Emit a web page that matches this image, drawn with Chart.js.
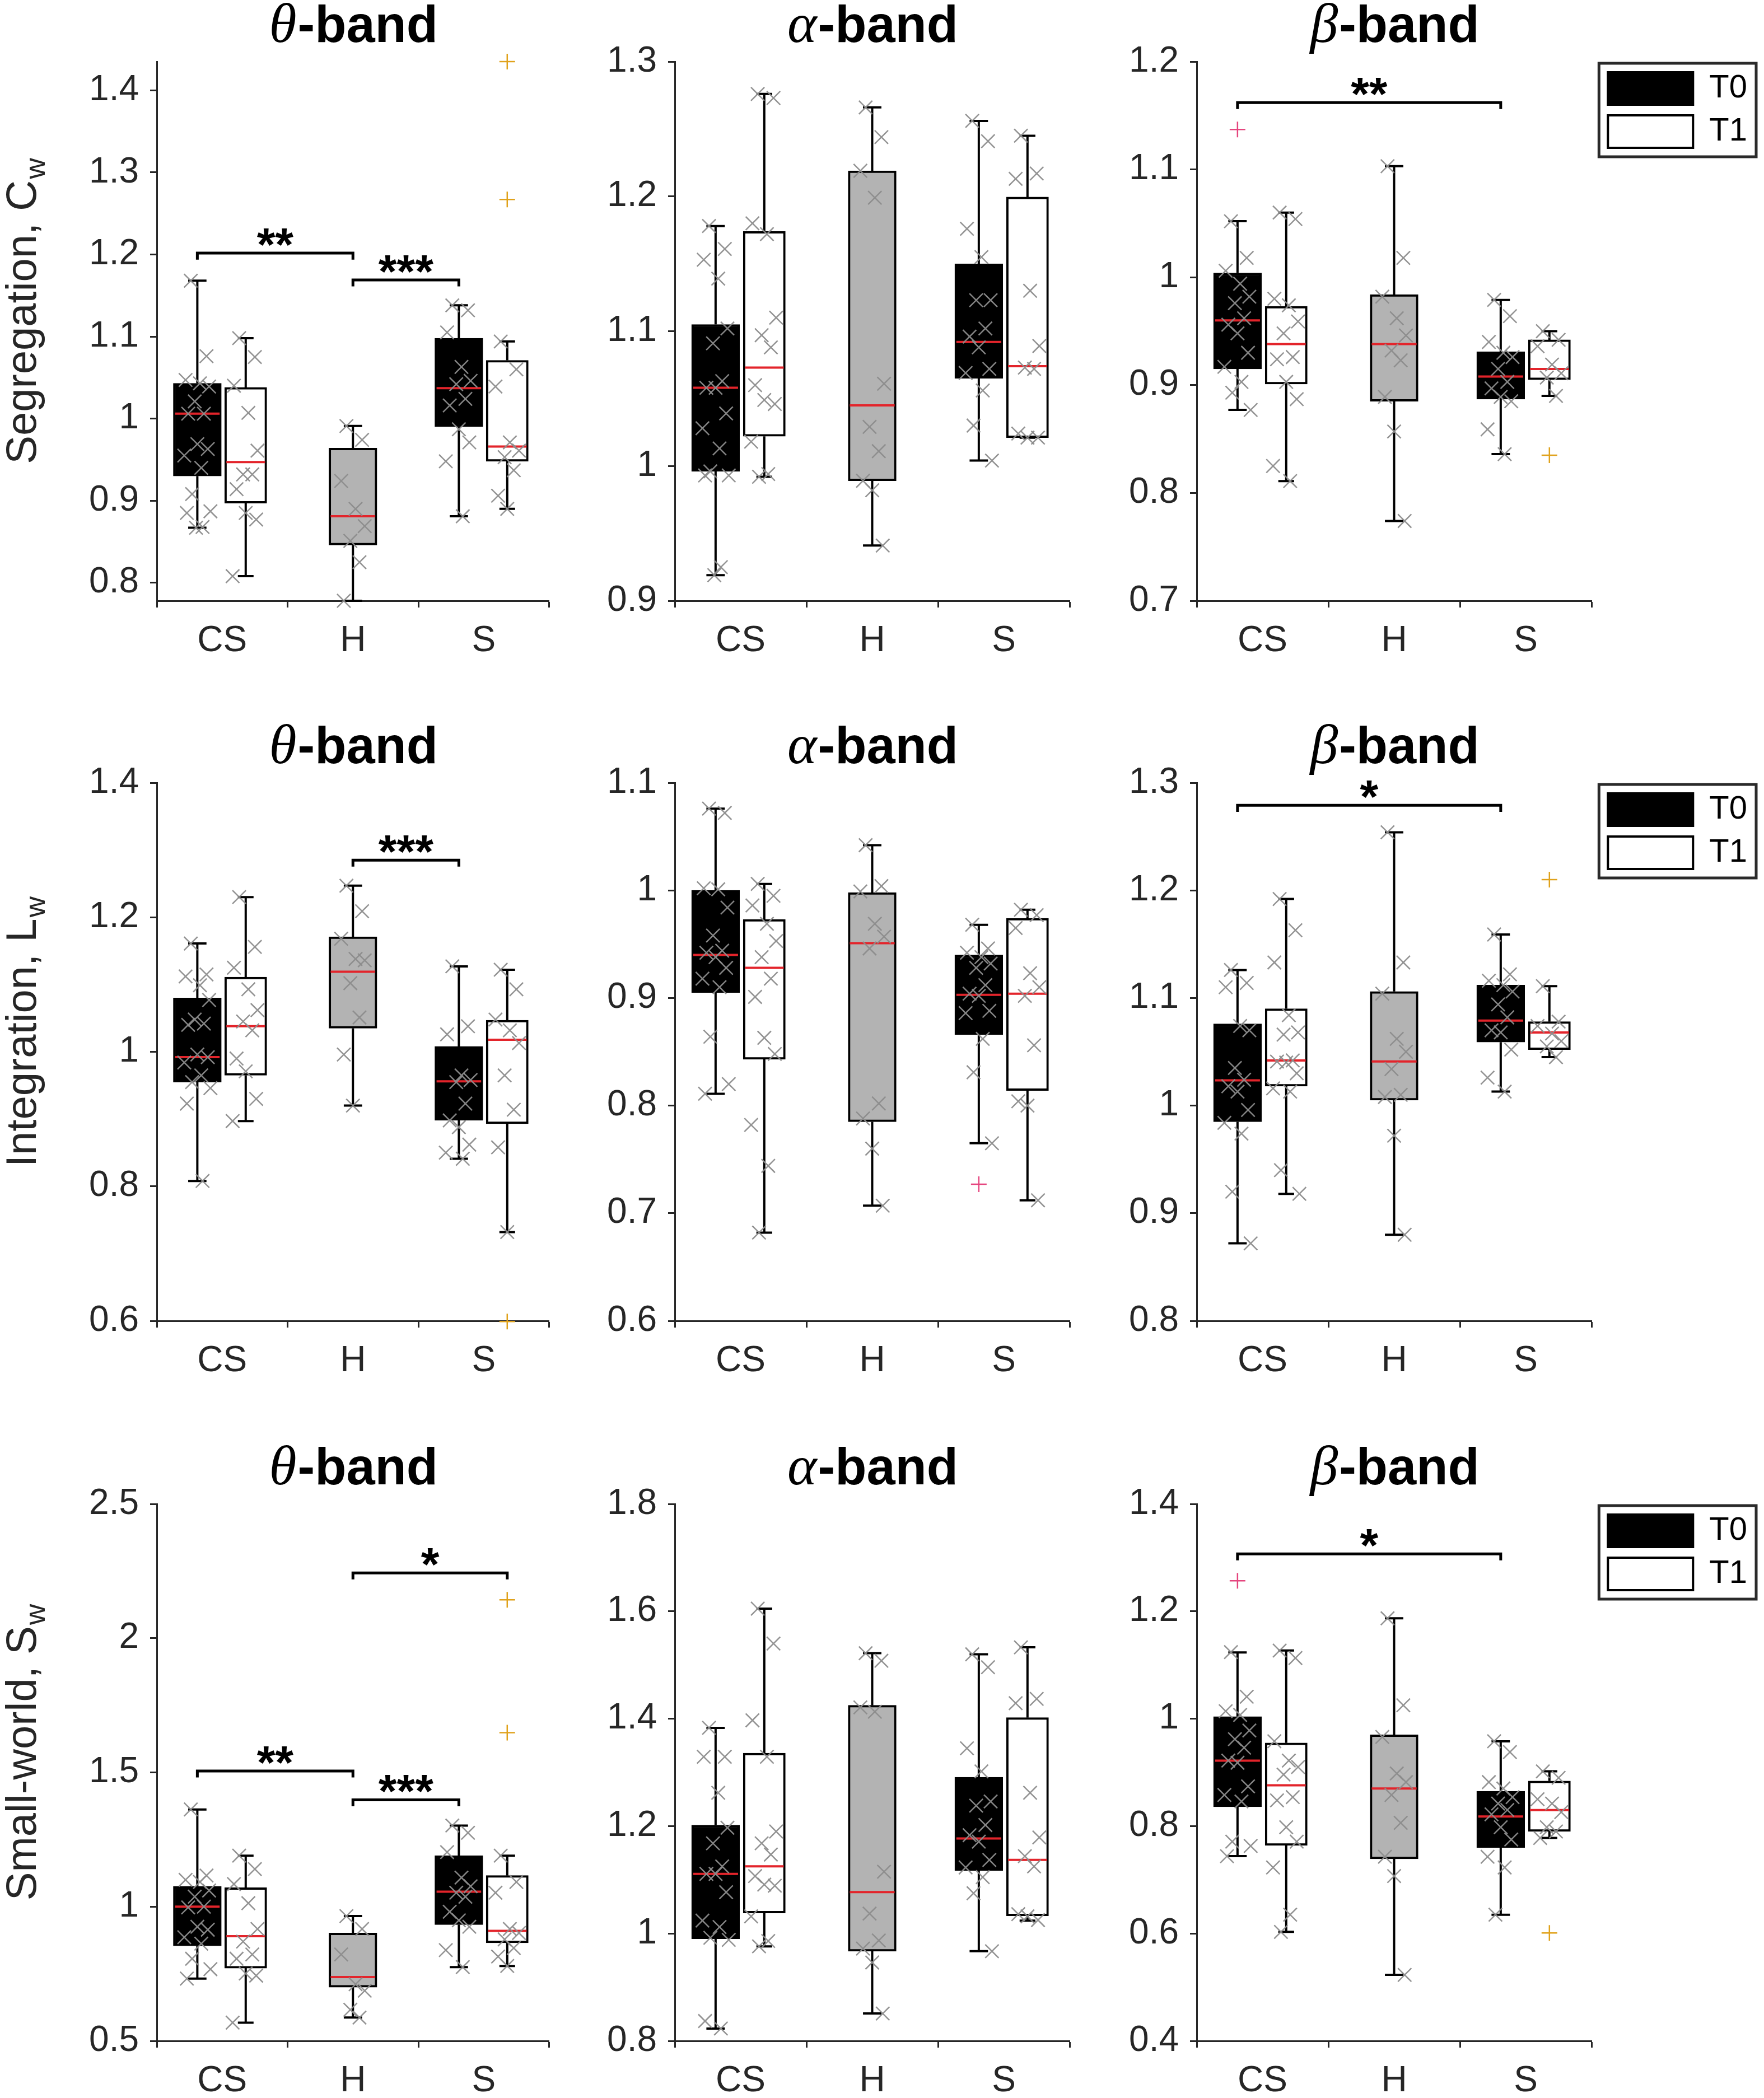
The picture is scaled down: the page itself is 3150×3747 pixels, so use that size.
<!DOCTYPE html>
<html>
<head>
<meta charset="utf-8">
<script src="https://cdn.jsdelivr.net/npm/chart.js@4.4.1/dist/chart.umd.min.js"></script>
<style>
  html, body { margin: 0; padding: 0; background: #fff; }
  #page { position: relative; width: 3150px; height: 3747px; overflow: hidden; }
  #page canvas { position: absolute; }
</style>
</head>
<body>
<div id="page"></div>
<script>
// Categories and sessions
const GROUPS = ["CS", "H", "S"];
const SESSIONS = ["T0", "T1"];
// Boxes in order: CS-T0, CS-T1, H, S-T0, S-T1
const BOX_GROUP = [0, 0, 1, 2, 2];
const BOX_KIND = ["T0", "T1", "H", "T0", "T1"];

// Box stats: [lower whisker, Q1, median, Q3, upper whisker]
// ---- Segregation, Cw ----
const SEG_THETA_BOX = [[0.867, 0.930, 1.006, 1.043, 1.168], [0.808, 0.897, 0.947, 1.038, 1.098], [0.778, 0.846, 0.881, 0.964, 0.991], [0.881, 0.990, 1.037, 1.098, 1.138], [0.890, 0.948, 0.966, 1.071, 1.094]];
const SEG_THETA_PTS = [
  [1.168, 1.076, 1.047, 1.043, 1.039, 1.021, 1.006, 1.006, 0.969, 0.963, 0.955, 0.940, 0.908, 0.887, 0.885, 0.868, 0.867],
  [1.098, 1.075, 1.040, 1.007, 0.961, 0.932, 0.932, 0.914, 0.885, 0.877, 0.808],
  [0.991, 0.974, 0.924, 0.890, 0.869, 0.851, 0.825, 0.778],
  [1.138, 1.132, 1.105, 1.063, 1.046, 1.042, 1.024, 1.016, 0.987, 0.971, 0.948, 0.881],
  [1.094, 1.060, 1.039, 0.971, 0.961, 0.953, 0.937, 0.906, 0.890]];
const SEG_THETA_OUT = [[], [], [], [], [1.435, 1.267]];
const SEG_THETA_SIG = [[0, 2, 1.2016, "**"], [2, 3, 1.169, "***"]];
const SEG_THETA_Y = [0.778, 1.435];
const SEG_THETA_TICKS = [0.8, 0.9, 1, 1.1, 1.2, 1.3, 1.4];

const SEG_ALPHA_BOX = [[0.919, 0.996, 1.058, 1.105, 1.178], [0.992, 1.022, 1.073, 1.174, 1.276], [0.941, 0.989, 1.045, 1.219, 1.266], [1.004, 1.065, 1.092, 1.150, 1.256], [1.021, 1.021, 1.074, 1.1995, 1.245]];
const SEG_ALPHA_PTS = [
  [1.178, 1.161, 1.153, 1.139, 1.102, 1.091, 1.063, 1.058, 1.058, 1.039, 1.028, 1.013, 0.996, 0.993, 0.993, 0.925, 0.919],
  [1.276, 1.273, 1.180, 1.172, 1.110, 1.097, 1.088, 1.060, 1.049, 1.046, 1.018, 0.994, 0.992],
  [1.266, 1.244, 1.219, 1.199, 1.061, 1.029, 1.011, 0.989, 0.982, 0.941],
  [1.256, 1.241, 1.176, 1.155, 1.123, 1.123, 1.102, 1.096, 1.088, 1.072, 1.069, 1.056, 1.030, 1.004],
  [1.245, 1.217, 1.213, 1.130, 1.089, 1.073, 1.072, 1.024, 1.021, 1.021]];
const SEG_ALPHA_OUT = [[], [], [], [], []];
const SEG_ALPHA_SIG = [];
const SEG_ALPHA_Y = [0.9, 1.3];
const SEG_ALPHA_TICKS = [0.9, 1, 1.1, 1.2, 1.3];

const SEG_BETA_BOX = [[0.877, 0.915, 0.960, 1.004, 1.052], [0.811, 0.901, 0.938, 0.973, 1.060], [0.774, 0.885, 0.938, 0.984, 1.103], [0.836, 0.887, 0.908, 0.931, 0.979], [0.890, 0.905, 0.915, 0.942, 0.950]];
const SEG_BETA_PTS = [
  [1.052, 1.018, 1.006, 0.994, 0.982, 0.976, 0.962, 0.956, 0.948, 0.930, 0.917, 0.903, 0.893, 0.877],
  [1.060, 1.054, 0.980, 0.974, 0.959, 0.948, 0.926, 0.924, 0.903, 0.887, 0.825, 0.811],
  [1.103, 1.018, 0.982, 0.962, 0.946, 0.932, 0.923, 0.889, 0.857, 0.774],
  [0.979, 0.964, 0.940, 0.930, 0.926, 0.915, 0.903, 0.897, 0.889, 0.885, 0.859, 0.836],
  [0.950, 0.942, 0.936, 0.919, 0.911, 0.907, 0.890]];
const SEG_BETA_OUT = [[1.137], [], [], [], [0.835]];
const SEG_BETA_SIG = [[0, 3, 1.162, "**"]];
const SEG_BETA_Y = [0.7, 1.2];
const SEG_BETA_TICKS = [0.7, 0.8, 0.9, 1, 1.1, 1.2];

// ---- Integration, Lw ----
const INT_THETA_BOX = [[0.808, 0.955, 0.992, 1.080, 1.161], [0.897, 0.965, 1.038, 1.111, 1.230], [0.920, 1.035, 1.119, 1.171, 1.247], [0.841, 0.898, 0.956, 1.008, 1.127], [0.732, 0.893, 1.018, 1.047, 1.122]];
const INT_THETA_PTS = [
  [1.161, 1.115, 1.112, 1.099, 1.077, 1.048, 1.042, 1.040, 0.996, 0.992, 0.984, 0.965, 0.955, 0.946, 0.923, 0.808],
  [1.230, 1.156, 1.125, 1.093, 1.062, 1.045, 1.032, 0.990, 0.971, 0.930, 0.897],
  [1.247, 1.209, 1.168, 1.138, 1.136, 1.102, 1.051, 0.996, 0.920],
  [1.127, 1.038, 1.026, 0.965, 0.958, 0.955, 0.923, 0.898, 0.888, 0.862, 0.850, 0.841],
  [1.122, 1.093, 1.048, 1.032, 1.013, 0.965, 0.914, 0.858, 0.732]];
const INT_THETA_OUT = [[], [], [], [], [0.599]];
const INT_THETA_SIG = [[2, 3, 1.285, "***"]];
const INT_THETA_Y = [0.6, 1.4];
const INT_THETA_TICKS = [0.6, 0.8, 1, 1.2, 1.4];

const INT_ALPHA_BOX = [[0.811, 0.905, 0.940, 1.000, 1.076], [0.682, 0.843, 0.928, 0.973, 1.006], [0.707, 0.785, 0.951, 0.998, 1.042], [0.765, 0.866, 0.903, 0.940, 0.968], [0.712, 0.814, 0.904, 0.974, 0.982]];
const INT_ALPHA_PTS = [
  [1.076, 1.072, 1.002, 1.001, 0.984, 0.958, 0.944, 0.942, 0.938, 0.928, 0.918, 0.910, 0.864, 0.820, 0.811],
  [1.006, 0.995, 0.986, 0.969, 0.953, 0.938, 0.918, 0.901, 0.863, 0.848, 0.782, 0.744, 0.682],
  [1.042, 1.004, 0.999, 0.969, 0.957, 0.946, 0.802, 0.788, 0.760, 0.707],
  [0.968, 0.946, 0.942, 0.938, 0.932, 0.928, 0.912, 0.904, 0.902, 0.888, 0.886, 0.862, 0.831, 0.765],
  [0.982, 0.977, 0.965, 0.923, 0.910, 0.902, 0.856, 0.804, 0.800, 0.712]];
const INT_ALPHA_OUT = [[], [], [], [0.727], []];
const INT_ALPHA_SIG = [];
const INT_ALPHA_Y = [0.6, 1.1];
const INT_ALPHA_TICKS = [0.6, 0.7, 0.8, 0.9, 1, 1.1];

const INT_BETA_BOX = [[0.872, 0.985, 1.0235, 1.076, 1.126], [0.918, 1.018, 1.042, 1.090, 1.192], [0.880, 1.005, 1.041, 1.106, 1.254], [1.013, 1.059, 1.079, 1.112, 1.159], [1.045, 1.052, 1.068, 1.078, 1.111]];
const INT_BETA_PTS = [
  [1.126, 1.114, 1.110, 1.074, 1.070, 1.035, 1.024, 1.018, 1.013, 0.996, 0.984, 0.974, 0.920, 0.872],
  [1.192, 1.163, 1.133, 1.084, 1.068, 1.066, 1.042, 1.041, 1.040, 1.030, 1.016, 1.013, 0.940, 0.918],
  [1.254, 1.133, 1.104, 1.062, 1.050, 1.034, 1.010, 1.008, 0.972, 0.880],
  [1.159, 1.122, 1.116, 1.112, 1.106, 1.094, 1.082, 1.070, 1.068, 1.052, 1.026, 1.013],
  [1.111, 1.078, 1.074, 1.067, 1.060, 1.055, 1.045]];
const INT_BETA_OUT = [[], [], [], [], [1.210]];
const INT_BETA_SIG = [[0, 3, 1.279, "*"]];
const INT_BETA_Y = [0.8, 1.3];
const INT_BETA_TICKS = [0.8, 0.9, 1, 1.1, 1.2, 1.3];

// ---- Small-world, Sw ----
const SW_THETA_BOX = [[0.732, 0.854, 1.000, 1.076, 1.362], [0.568, 0.771, 0.890, 1.071, 1.190], [0.587, 0.700, 0.738, 0.902, 0.965], [0.775, 0.933, 1.056, 1.190, 1.302], [0.779, 0.865, 0.910, 1.116, 1.190]];
const SW_THETA_PTS = [
  [1.362, 1.116, 1.100, 1.092, 1.060, 1.037, 1.000, 0.997, 0.925, 0.914, 0.886, 0.862, 0.806, 0.767, 0.732],
  [1.190, 1.140, 1.084, 1.013, 0.917, 0.870, 0.822, 0.806, 0.751, 0.743, 0.568],
  [0.965, 0.917, 0.822, 0.711, 0.687, 0.616, 0.587],
  [1.302, 1.275, 1.203, 1.108, 1.076, 1.052, 1.037, 0.981, 0.949, 0.925, 0.838, 0.775],
  [1.190, 1.092, 1.052, 0.917, 0.902, 0.878, 0.846, 0.814, 0.779]];
const SW_THETA_OUT = [[], [], [], [], [2.143, 1.648]];
const SW_THETA_SIG = [[0, 2, 1.505, "**"], [2, 3, 1.398, "***"], [2, 4, 2.243, "*"]];
const SW_THETA_Y = [0.5, 2.5];
const SW_THETA_TICKS = [0.5, 1, 1.5, 2, 2.5];

const SW_ALPHA_BOX = [[0.823, 0.990, 1.111, 1.202, 1.383], [0.976, 1.038, 1.125, 1.336, 1.605], [0.851, 0.967, 1.077, 1.425, 1.522], [0.967, 1.117, 1.177, 1.291, 1.520], [1.024, 1.033, 1.137, 1.402, 1.533]];
const SW_ALPHA_PTS = [
  [1.383, 1.329, 1.329, 1.262, 1.197, 1.168, 1.125, 1.111, 1.111, 1.077, 1.024, 1.012, 0.992, 0.988, 0.837, 0.823],
  [1.605, 1.540, 1.397, 1.329, 1.190, 1.168, 1.147, 1.107, 1.091, 1.089, 1.032, 0.986, 0.976],
  [1.522, 1.508, 1.421, 1.413, 1.115, 1.037, 0.987, 0.972, 0.946, 0.851],
  [1.520, 1.496, 1.345, 1.302, 1.246, 1.238, 1.202, 1.183, 1.171, 1.137, 1.123, 1.105, 1.075, 0.967],
  [1.533, 1.437, 1.429, 1.262, 1.179, 1.144, 1.125, 1.036, 1.032, 1.025]];
const SW_ALPHA_OUT = [[], [], [], [], []];
const SW_ALPHA_SIG = [];
const SW_ALPHA_Y = [0.8, 1.8];
const SW_ALPHA_TICKS = [0.8, 1, 1.2, 1.4, 1.6, 1.8];

const SW_BETA_BOX = [[0.744, 0.836, 0.922, 1.004, 1.1235], [0.603, 0.764, 0.876, 0.955, 1.127], [0.523, 0.739, 0.870, 0.970, 1.187], [0.635, 0.760, 0.818, 0.865, 0.958], [0.778, 0.790, 0.830, 0.884, 0.902]];
const SW_BETA_PTS = [
  [1.124, 1.041, 1.014, 1.007, 0.978, 0.962, 0.946, 0.922, 0.918, 0.874, 0.858, 0.846, 0.771, 0.763, 0.744],
  [1.127, 1.113, 0.958, 0.922, 0.910, 0.896, 0.854, 0.848, 0.798, 0.771, 0.723, 0.635, 0.603],
  [1.187, 1.025, 0.966, 0.898, 0.882, 0.858, 0.806, 0.743, 0.707, 0.523],
  [0.958, 0.938, 0.882, 0.870, 0.854, 0.842, 0.830, 0.822, 0.798, 0.775, 0.743, 0.723, 0.635],
  [0.902, 0.890, 0.850, 0.842, 0.826, 0.798, 0.790, 0.778]];
const SW_BETA_OUT = [[1.257], [], [], [], [0.601]];
const SW_BETA_SIG = [[0, 3, 1.307, "*"]];
const SW_BETA_Y = [0.4, 1.4];
const SW_BETA_TICKS = [0.4, 0.6, 0.8, 1, 1.2, 1.4];

const BANDS = ["\u03B8", "\u03B1", "\u03B2"];
const YLABELS = [["Segregation, C", "w"], ["Integration, L", "w"], ["Small-world, S", "w"]];

// Layout (page pixels)
const COL_CANVAS = [[0, 1000], [1000, 1945], [1960, 3150]];
const COL_PLOT = [[280, 985], [1205, 1910], [2137, 2842]];
const ROW_CANVAS = [[0, 1200], [1230, 2490], [2520, 3747]];
const ROW_PLOT = [[110, 1073], [1398, 2359], [2686, 3645]];
const LEGEND_PAD_R = 20;

// Box placement/style in category units
const BOX_DX = [-0.19, 0.18, 0, -0.19, 0.18];
const BOX_W = [0.365, 0.32, 0.365, 0.365, 0.32];
const CAP_W = [0.07, 0.06, 0.07, 0.07, 0.06];
const JITTER = [-0.05, 0.07, -0.09, 0.02, 0.09, -0.02, 0.05, -0.07, 0.0, 0.08, -0.1, 0.03, -0.04, 0.1, -0.08, 0.04, -0.01];

const FONT = '"Liberation Sans", Arial, Helvetica, sans-serif';
const INK = "#262626";
const FILL = { T0: "#000000", T1: "#ffffff", H: "#b3b3b3" };
const OUT_COLOR = { T0: "#e5467f", T1: "#e0a21c" };

const PANELS = [
  [
    { box: SEG_THETA_BOX, pts: SEG_THETA_PTS, out: SEG_THETA_OUT, sig: SEG_THETA_SIG, y: SEG_THETA_Y, ticks: SEG_THETA_TICKS },
    { box: SEG_ALPHA_BOX, pts: SEG_ALPHA_PTS, out: SEG_ALPHA_OUT, sig: SEG_ALPHA_SIG, y: SEG_ALPHA_Y, ticks: SEG_ALPHA_TICKS },
    { box: SEG_BETA_BOX, pts: SEG_BETA_PTS, out: SEG_BETA_OUT, sig: SEG_BETA_SIG, y: SEG_BETA_Y, ticks: SEG_BETA_TICKS }
  ],
  [
    { box: INT_THETA_BOX, pts: INT_THETA_PTS, out: INT_THETA_OUT, sig: INT_THETA_SIG, y: INT_THETA_Y, ticks: INT_THETA_TICKS },
    { box: INT_ALPHA_BOX, pts: INT_ALPHA_PTS, out: INT_ALPHA_OUT, sig: INT_ALPHA_SIG, y: INT_ALPHA_Y, ticks: INT_ALPHA_TICKS },
    { box: INT_BETA_BOX, pts: INT_BETA_PTS, out: INT_BETA_OUT, sig: INT_BETA_SIG, y: INT_BETA_Y, ticks: INT_BETA_TICKS }
  ],
  [
    { box: SW_THETA_BOX, pts: SW_THETA_PTS, out: SW_THETA_OUT, sig: SW_THETA_SIG, y: SW_THETA_Y, ticks: SW_THETA_TICKS },
    { box: SW_ALPHA_BOX, pts: SW_ALPHA_PTS, out: SW_ALPHA_OUT, sig: SW_ALPHA_SIG, y: SW_ALPHA_Y, ticks: SW_ALPHA_TICKS },
    { box: SW_BETA_BOX, pts: SW_BETA_PTS, out: SW_BETA_OUT, sig: SW_BETA_SIG, y: SW_BETA_Y, ticks: SW_BETA_TICKS }
  ]
];

const page = document.getElementById("page");

function boxX(i) {
  return BOX_GROUP[i] + BOX_DX[i];
}

function buildDatasets(p, unitPx) {
  const sets = [];
  const gap = (x) => ({ x, y: null });

  // boxes (Q1..Q3) as floating bars
  const boxSet = (label, idx) => ({
    type: "bar",
    label,
    grouped: false,
    data: idx.map((i) => ({ x: boxX(i), y: [p.box[i][1], p.box[i][3]] })),
    backgroundColor: FILL[label],
    borderColor: "#000",
    borderWidth: 4,
    borderSkipped: false,
    barThickness: BOX_W[idx[0]] * unitPx,
    order: 6
  });
  sets.push(boxSet("T0", [0, 3]));
  sets.push(boxSet("T1", [1, 4]));
  sets.push(boxSet("H", [2]));

  // whiskers and caps
  const whisk = [];
  p.box.forEach((b, i) => {
    const xc = boxX(i), cw = CAP_W[i];
    whisk.push({ x: xc, y: b[3] }, { x: xc, y: b[4] }, gap(xc));
    whisk.push({ x: xc - cw, y: b[4] }, { x: xc + cw, y: b[4] }, gap(xc));
    whisk.push({ x: xc, y: b[1] }, { x: xc, y: b[0] }, gap(xc));
    whisk.push({ x: xc - cw, y: b[0] }, { x: xc + cw, y: b[0] }, gap(xc));
  });
  sets.push({
    type: "scatter", showLine: true, spanGaps: false, data: whisk,
    borderColor: "#000", borderWidth: 4, pointRadius: 0, order: 5, clip: false
  });

  // medians
  const med = [];
  p.box.forEach((b, i) => {
    const xc = boxX(i), hw = BOX_W[i] / 2 - 0.012;
    med.push({ x: xc - hw, y: b[2] }, { x: xc + hw, y: b[2] }, gap(xc));
  });
  sets.push({
    type: "scatter", showLine: true, spanGaps: false, data: med,
    borderColor: "#e3242b", borderWidth: 4, pointRadius: 0, order: 4, clip: false
  });

  // significance brackets
  const span = p.y[1] - p.y[0];
  const br = [];
  p.sig.forEach(([a, b, yv]) => {
    const d = span * 0.012;
    br.push({ x: boxX(a), y: yv - d }, { x: boxX(a), y: yv }, { x: boxX(b), y: yv }, { x: boxX(b), y: yv - d }, gap(boxX(b)));
  });
  if (br.length) {
    sets.push({
      type: "scatter", showLine: true, spanGaps: false, data: br,
      borderColor: "#000", borderWidth: 5, pointRadius: 0, order: 4, clip: false
    });
  }

  // individual subjects
  const pts = [];
  p.pts.forEach((list, i) => {
    list.forEach((v, k) => pts.push({ x: boxX(i) + JITTER[k % JITTER.length], y: v }));
  });
  sets.push({
    type: "scatter", data: pts, pointStyle: "crossRot", pointRadius: 17,
    borderColor: "rgba(140,140,140,0.95)", backgroundColor: "rgba(0,0,0,0)",
    borderWidth: 2.5, order: 2, clip: false
  });

  // outliers
  SESSIONS.forEach((s) => {
    const o = [];
    p.out.forEach((list, i) => {
      if (BOX_KIND[i] === s) list.forEach((v) => o.push({ x: boxX(i), y: v }));
    });
    if (o.length) {
      sets.push({
        type: "scatter", data: o, pointStyle: "cross", pointRadius: 14,
        borderColor: OUT_COLOR[s], borderWidth: 2.5, order: 1, clip: false
      });
    }
  });
  return sets;
}

function decorPlugin(p, row, col, hasLegend) {
  return {
    id: "panelDecor",
    afterDraw(chart) {
      const { ctx, chartArea: a, scales } = chart;
      ctx.save();
      ctx.textBaseline = "alphabetic";
      ctx.textAlign = "left";
      ctx.fillStyle = "#000";

      // title: greek letter + "-band"
      const gFont = 'italic 100px "Liberation Serif", "DejaVu Serif", serif';
      const tFont = "bold 92px " + FONT;
      ctx.font = gFont;
      const gw = ctx.measureText(BANDS[col]).width;
      ctx.font = tFont;
      const tw = ctx.measureText("-band").width;
      const sx = (a.left + a.right) / 2 - (gw + tw) / 2;
      const base = a.top - 35;
      ctx.font = gFont;
      ctx.fillText(BANDS[col], sx, base);
      ctx.font = tFont;
      ctx.fillText("-band", sx + gw + 2, base);

      // y label with subscript
      if (col === 0) {
        const [main, sub] = YLABELS[row];
        ctx.save();
        ctx.translate(64, (a.top + a.bottom) / 2 - 35);
        ctx.rotate(-Math.PI / 2);
        ctx.fillStyle = INK;
        ctx.font = "76px " + FONT;
        const mw = ctx.measureText(main).width;
        ctx.font = "52px " + FONT;
        const sw = ctx.measureText(sub).width;
        const lx = -(mw + sw) / 2;
        ctx.font = "76px " + FONT;
        ctx.fillText(main, lx, 0);
        ctx.font = "52px " + FONT;
        ctx.fillText(sub, lx + mw + 2, 16);
        ctx.restore();
      }

      // significance stars
      ctx.font = "bold 84px " + FONT;
      ctx.textAlign = "center";
      p.sig.forEach(([i, j, yv, label]) => {
        const xm = (scales.x.getPixelForValue(boxX(i)) + scales.x.getPixelForValue(boxX(j))) / 2;
        ctx.fillText(label, xm, scales.y.getPixelForValue(yv) + 14);
      });

      // legend frame
      if (hasLegend && chart.legend && chart.legend.legendHitBoxes.length) {
        const hb = chart.legend.legendHitBoxes;
        const l = Math.min(...hb.map((h) => h.left)) - 16;
        const t = Math.min(...hb.map((h) => h.top)) - 16;
        const r = Math.max(...hb.map((h) => h.left + h.width)) + 16;
        const b = Math.max(...hb.map((h) => h.top + h.height)) + 16;
        ctx.strokeStyle = "#2a2a2a";
        ctx.lineWidth = 5;
        ctx.strokeRect(l, t, r - l, b - t);
      }
      ctx.restore();
    }
  };
}

function makePanel(p, row, col) {
  const [cx0, cx1] = COL_CANVAS[col];
  const [px0, px1] = COL_PLOT[col];
  const [cy0, cy1] = ROW_CANVAS[row];
  const [py0, py1] = ROW_PLOT[row];
  const hasLegend = col === 2;

  const canvas = document.createElement("canvas");
  canvas.width = cx1 - cx0;
  canvas.height = cy1 - cy0;
  canvas.style.left = cx0 + "px";
  canvas.style.top = cy0 + "px";
  canvas.style.width = cx1 - cx0 + "px";
  canvas.style.height = cy1 - cy0 + "px";
  page.appendChild(canvas);

  const unitPx = (px1 - px0) / 3;
  const tickFont = { family: FONT, size: 64 };
  const grid = { drawOnChartArea: false, drawTicks: true, tickLength: 12, tickWidth: 3, tickColor: INK };
  const border = { display: true, color: INK, width: 3 };
  const padR = hasLegend ? LEGEND_PAD_R : cx1 - px1;

  const scales = {
    x: {
      type: "linear", min: -0.5, max: 2.5, offset: false,
      afterBuildTicks: (s) => { s.ticks = GROUPS.map((g, i) => ({ value: i })); },
      afterFit: (s) => { s.height = cy1 - py1; },
      ticks: { callback: (v) => GROUPS[v], font: tickFont, color: INK, padding: 22, maxRotation: 0, autoSkip: false },
      grid, border
    },
    y: {
      type: "linear", min: p.y[0], max: p.y[1],
      afterBuildTicks: (s) => { s.ticks = p.ticks.map((v) => ({ value: v })); },
      afterFit: (s) => { s.width = px0 - cx0; },
      ticks: { callback: (v) => String(+Number(v).toFixed(3)), font: tickFont, color: INK, padding: 20, autoSkip: false },
      grid, border
    }
  };
  if (hasLegend) {
    // spacer between plot and legend
    scales.gap = {
      type: "linear", position: "right", display: true,
      ticks: { display: false }, grid: { display: false, drawTicks: false }, border: { display: false },
      afterFit: (s) => {
        const lw = s.chart.legend ? s.chart.legend.width : 0;
        s.width = Math.max(0, (cx1 - cx0) - padR - lw - (px1 - cx0));
      }
    };
  }

  new Chart(canvas, {
    type: "scatter",
    data: { datasets: buildDatasets(p, unitPx) },
    options: {
      responsive: false,
      animation: false,
      devicePixelRatio: 1,
      events: [],
      layout: { padding: { top: py0 - cy0, right: padR, bottom: 0, left: 0 } },
      plugins: {
        tooltip: { enabled: false },
        legend: {
          display: hasLegend,
          position: "right",
          align: "start",
          maxWidth: 400,
          labels: {
            boxWidth: 152, boxHeight: 58, padding: 19, color: "#000",
            font: { family: FONT, size: 58 },
            filter: (item) => SESSIONS.includes(item.text)
          }
        }
      },
      scales
    },
    plugins: [decorPlugin(p, row, col, hasLegend)]
  });
}

PANELS.forEach((rowPanels, row) => rowPanels.forEach((p, col) => makePanel(p, row, col)));
</script>
</body>
</html>
